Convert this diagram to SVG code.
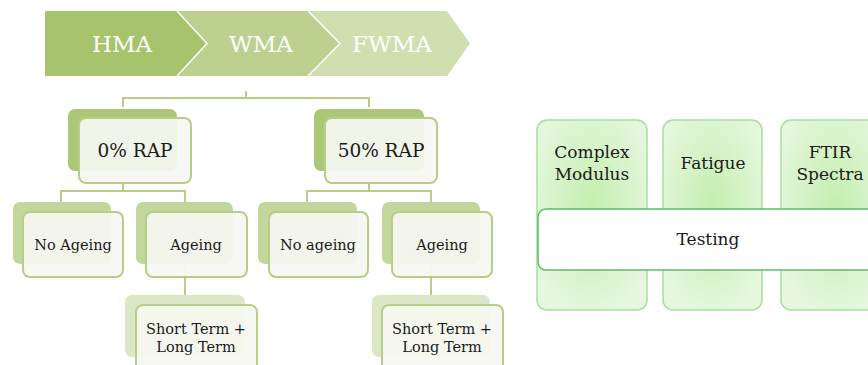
<svg xmlns="http://www.w3.org/2000/svg" width="868" height="365" viewBox="0 0 868 365">
<defs>
<radialGradient id="colg" cx="0.5" cy="0.45" r="0.6">
<stop offset="0" stop-color="#c4eeb0"/>
<stop offset="1" stop-color="#e6f7de"/>
</radialGradient>
<style>
text{font-family:"DejaVu Serif","Liberation Serif",serif;fill:#1a1a1a;text-anchor:middle}
.ban{fill:#ffffff;font-size:23px}
.l1{font-size:18.5px}
.l2{font-size:14.5px}
.rt{font-size:17px}
.conn{fill:none;stroke:#b6cf85;stroke-width:2}
.front{fill:#f6f7f2;fill-opacity:0.93;stroke:#b6cf85;stroke-width:2}
.s1{fill:#adc779}
.s2{fill:#c3d79c}
.s3{fill:#dce7c7}
.col{fill:url(#colg);stroke:#a6dfa0;stroke-width:1.5}
.bar{fill:#ffffff;stroke:#5bbd6c;stroke-width:1.5}
</style>
</defs>
<rect width="868" height="365" fill="#ffffff"/>

<g id="banner">
<polygon points="308,11 447,11 470,43.5 447,76 308,76 340,43.5" fill="#cfdfb0"/>
<polygon points="177,11 308,11 340,43.5 308,76 177,76 207,43.5" fill="#bcd18f"/>
<polygon points="45,11 177,11 207,43.5 177,76 45,76" fill="#a7c36b"/>
<polyline points="177,11 207,43.5 177,76" fill="none" stroke="#ffffff" stroke-width="1.5"/>
<polyline points="308,11 340,43.5 308,76" fill="none" stroke="#ffffff" stroke-width="1.5"/>
<text class="ban" x="122" y="52">HMA</text>
<text class="ban" x="261" y="52">WMA</text>
<text class="ban" x="392" y="52">FWMA</text>
</g>

<g id="connectors">
<path class="conn" d="M246,91 V98 M123,107 V98 H369 V107"/>
<path class="conn" d="M123,183 V191 M61,202 V191 H185 V202"/>
<path class="conn" d="M369,183 V191 M307,202 V191 H431 V202"/>
<path class="conn" d="M185,264 V295"/>
<path class="conn" d="M431,264 V295"/>
</g>

<g id="rap0">
<rect class="s1" x="68" y="109" width="109" height="62" rx="7"/>
<rect class="front" x="79" y="118" width="112" height="65" rx="7"/>
<text class="l1" x="135" y="157">0% RAP</text>
</g>
<g id="rap50">
<rect class="s1" x="314" y="109" width="110" height="62" rx="7"/>
<rect class="front" x="325" y="118" width="112" height="65" rx="7"/>
<text class="l1" x="381" y="157">50% RAP</text>
</g>

<g id="noageing0">
<rect class="s2" x="13" y="202" width="98" height="62" rx="7"/>
<rect class="front" x="23" y="212" width="100" height="65" rx="7"/>
<text class="l2" x="73" y="250">No Ageing</text>
</g>
<g id="ageing0">
<rect class="s2" x="136" y="202" width="97" height="62" rx="7"/>
<rect class="front" x="146" y="212" width="101" height="65" rx="7"/>
<text class="l2" x="196" y="250">Ageing</text>
</g>
<g id="noageing50">
<rect class="s2" x="258" y="202" width="99" height="62" rx="7"/>
<rect class="front" x="269" y="212" width="99" height="65" rx="7"/>
<text class="l2" x="318" y="250">No ageing</text>
</g>
<g id="ageing50">
<rect class="s2" x="382" y="202" width="98" height="62" rx="7"/>
<rect class="front" x="392" y="212" width="100" height="65" rx="7"/>
<text class="l2" x="442" y="250">Ageing</text>
</g>

<g id="term0">
<rect class="s3" x="125" y="295" width="120" height="62" rx="7"/>
<rect class="front" x="136" y="305" width="121" height="70" rx="7"/>
<text class="l2" x="196" y="334">Short Term +</text>
<text class="l2" x="196" y="352">Long Term</text>
</g>
<g id="term50">
<rect class="s3" x="372" y="295" width="118" height="62" rx="7"/>
<rect class="front" x="382" y="305" width="121" height="70" rx="7"/>
<text class="l2" x="442" y="334">Short Term +</text>
<text class="l2" x="442" y="352">Long Term</text>
</g>

<g id="complex">
<rect class="col" x="537" y="120" width="110" height="190" rx="10"/>
<text class="rt" x="592" y="158">Complex</text>
<text class="rt" x="592" y="180">Modulus</text>
</g>
<g id="fatigue">
<rect class="col" x="663" y="120" width="99" height="190" rx="10"/>
<text class="rt" x="713" y="169">Fatigue</text>
</g>
<g id="ftir">
<rect class="col" x="781" y="120" width="110" height="190" rx="10"/>
<text class="rt" x="830" y="158">FTIR</text>
<text class="rt" x="830" y="180">Spectra</text>
</g>
<g id="testing">
<rect class="bar" x="538" y="209" width="345" height="61" rx="8"/>
<text class="rt" x="708" y="245">Testing</text>
</g>
</svg>
